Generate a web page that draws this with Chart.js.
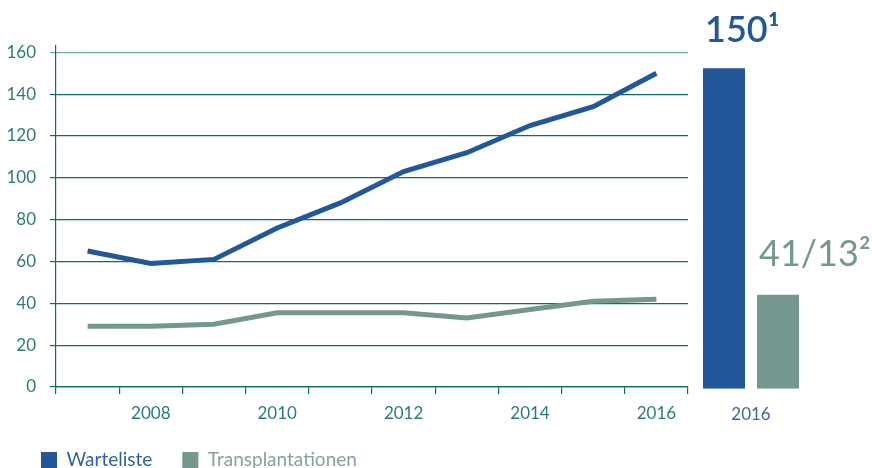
<!DOCTYPE html>
<html><head><meta charset="utf-8">
<script src="https://cdn.jsdelivr.net/npm/chart.js@4"></script>
<style>
html,body{margin:0;padding:0;width:872px;height:468px;overflow:hidden;background:#fff}
#c1{position:absolute;left:0;top:0}
#c2{position:absolute;left:690px;top:0}
</style></head><body>
<canvas id="c1" width="700" height="486"></canvas>
<canvas id="c2" width="182" height="468"></canvas>
<script>
const years = ['2007','2008','2009','2010','2011','2012','2013','2014','2015','2016'];
const warteliste = [65, 59, 61, 76, 88, 103, 112, 125, 134, 150];
const transplantationen = [29, 29, 30, 35.5, 35.5, 35.5, 33, 37, 41, 42];
const yTicks = [0, 20, 40, 60, 80, 100, 120, 140, 160];
const seriesNames = ['Warteliste', 'Transplantationen'];
const barCategory = ['2016'];
const barWarteliste = [150];
const barTransplantationen = [44];
const barLabels = ['150\u00B9', '41/13\u00B2'];

const BLUE = '#22579a', GREEN = '#74978f', TEAL = '#0f6b66', TEXT = '#2b7c77';
const FONT = 'Lato, "Open Sans", sans-serif';

const legendShift = {
  id: 'legendShift',
  afterLayout(chart) {
    const lg = chart.legend;
    if (!lg) return;
    lg.left += 11; lg.right += 11;
    lg.top -= 6.5; lg.bottom -= 6.5;
  }
};

new Chart(document.getElementById('c1'), {
  type: 'line',
  data: {
    labels: years,
    datasets: [
      {label: seriesNames[0], data: warteliste, borderColor: BLUE, backgroundColor: BLUE, borderWidth: 5, pointRadius: 0, tension: 0, borderCapStyle: 'butt'},
      {label: seriesNames[1], data: transplantationen, borderColor: GREEN, backgroundColor: GREEN, borderWidth: 5, pointRadius: 0, tension: 0, borderCapStyle: 'butt'}
    ]
  },
  plugins: [legendShift],
  options: {
    responsive: false, devicePixelRatio: 1, animation: false,
    layout: {padding: {left: 0, right: 12, top: 46, bottom: 0}},
    plugins: {
      tooltip: {enabled: false},
      legend: {
        position: 'bottom', align: 'start',
        labels: {
          boxWidth: 16, boxHeight: 16, padding: 30,
          font: {family: FONT, size: 19},
          generateLabels: (chart) => chart.data.datasets.map((d, i) => ({
            text: d.label, fillStyle: d.borderColor, strokeStyle: d.borderColor,
            lineWidth: 0, fontColor: i === 0 ? '#2f62a4' : '#84a39c', datasetIndex: i, hidden: false
          }))
        }
      }
    },
    scales: {
      x: {
        type: 'category', offset: true,
        grid: {offset: true, drawOnChartArea: false, drawTicks: true, tickLength: 7, color: TEAL, lineWidth: 1.2},
        border: {color: TEAL, width: 1.2},
        ticks: {autoSkip: false, maxRotation: 0, padding: 9, color: TEXT, font: {family: FONT, size: 17},
          callback: (v, i) => (i % 2 === 1 ? years[i] : '')},
        afterFit: (s) => { s.height = 40; }
      },
      y: {
        min: 0, max: 163,
        afterBuildTicks: (s) => { s.ticks = yTicks.map(v => ({value: v})); },
        grid: {drawTicks: true, tickLength: 6, lineWidth: 1.2,
          color: (c) => (c.tick && c.tick.value === 160 ? '#6faaa4' : TEAL)},
        border: {color: TEAL, width: 1.2},
        ticks: {padding: 14, color: TEXT, font: {family: FONT, size: 17}},
        afterFit: (s) => { s.width = 56; }
      }
    }
  }
});

const labelOffsets = [26, 29];
const barLabelPlugin = {
  id: 'barLabels',
  afterDatasetsDraw(chart) {
    const ctx = chart.ctx;
    ctx.save();
    ctx.textBaseline = 'alphabetic';
    ctx.textAlign = 'left';
    chart.data.datasets.forEach((d, i) => {
      const el = chart.getDatasetMeta(i).data[0];
      ctx.fillStyle = d.backgroundColor;
      ctx.font = (i === 0 ? '600 ' : '400 ') + '36px ' + FONT;
      ctx.fillText(barLabels[i], el.x - el.width / 2 + 2, el.y - labelOffsets[i]);
    });
    ctx.restore();
  }
};

new Chart(document.getElementById('c2'), {
  type: 'bar',
  data: {
    labels: barCategory,
    datasets: [
      {label: seriesNames[0], data: barWarteliste, backgroundColor: BLUE},
      {label: seriesNames[1], data: barTransplantationen, backgroundColor: GREEN}
    ]
  },
  plugins: [barLabelPlugin],
  options: {
    responsive: false, devicePixelRatio: 1, animation: false,
    layout: {padding: {left: 7, right: 67, top: 46.9, bottom: 29.3}},
    datasets: {bar: {categoryPercentage: 1, barPercentage: 0.7778}},
    plugins: {legend: {display: false}, tooltip: {enabled: false}},
    scales: {
      x: {
        grid: {display: false, drawTicks: false}, border: {display: false},
        ticks: {padding: 16, color: '#3a68a6', font: {family: FONT, size: 17}},
        afterFit: (s) => { s.height = 50; }
      },
      y: {display: false, min: 0, max: 160}
    }
  }
});
</script>
</body></html>
